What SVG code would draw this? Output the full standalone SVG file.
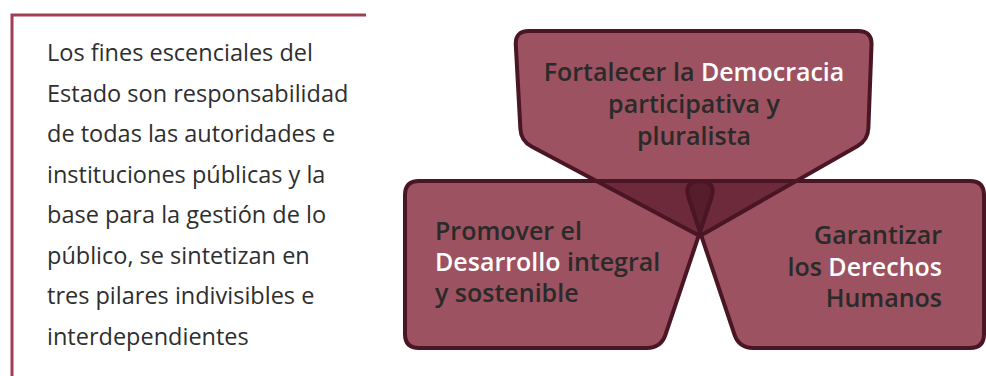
<svg xmlns="http://www.w3.org/2000/svg" xmlns:xlink="http://www.w3.org/1999/xlink" width="986" height="376" viewBox="0 0 986 376">
<style>
.para{font-family:"Open Sans","Noto Sans","Liberation Sans",sans-serif;font-size:23.5px;fill:#2e2e2e}
.lbl{font-family:"Open Sans","Noto Sans","Liberation Sans",sans-serif;font-size:25px;font-weight:600;fill:#2a2a2a}
.hl{fill:#ffffff}
.shape{fill:#9c5260}
.edge{fill:none;stroke:#4a1525;stroke-width:4;stroke-linejoin:round}
</style>
<defs>
<path id="pT" d="M529,31 L858,31 Q872,31 871.5,45 L868.4,128 Q868,140 857.6,146 L704.3,233.5 Q700,236 695.6,233.7 L531.6,146.6 Q521,141 520.4,129 L515.8,45 Q515,31 529,31 Z"/>
<path id="pL" d="M419,181 L699,181 Q717,181 711.3,198.1 L665.5,334.7 Q661,348 647,348 L419,348 Q405,348 405,334 L405,195 Q405,181 419,181 Z"/>
<path id="pR" d="M701,181 L970,181 Q984,181 984,195 L984,334 Q984,348 970,348 L753,348 Q739,348 734.5,334.7 L688.7,198.1 Q683,181 701,181 Z"/>
<clipPath id="cT"><use xlink:href="#pT"/></clipPath>
<clipPath id="cL"><use xlink:href="#pL"/></clipPath>
</defs>
<path d="M12,376 L12,15 L366,15" fill="none" stroke="#9e3f55" stroke-width="3"/>
<g id="intro">
<text class="para" x="47" y="61">Los fines escenciales del</text>
<text class="para" x="47" y="101.5">Estado son responsabilidad</text>
<text class="para" x="47" y="142">de todas las autoridades e</text>
<text class="para" x="47" y="182.5">instituciones públicas y la</text>
<text class="para" x="47" y="223">base para la gestión de lo</text>
<text class="para" x="47" y="263.5">público, se sintetizan en</text>
<text class="para" x="47" y="304">tres pilares indivisibles e</text>
<text class="para" x="47" y="344.5">interdependientes</text>
</g>
<g id="pilar-democracia">
<use xlink:href="#pT" class="shape"/>
</g>
<g id="pilar-desarrollo">
<use xlink:href="#pL" class="shape"/>
</g>
<g id="pilar-derechos">
<use xlink:href="#pR" class="shape"/>
</g>
<g id="overlaps">
<use xlink:href="#pL" fill="#6d2a3b" clip-path="url(#cT)"/>
<use xlink:href="#pR" fill="#6d2a3b" clip-path="url(#cT)"/>
<g clip-path="url(#cT)"><use xlink:href="#pR" fill="#561d2c" clip-path="url(#cL)"/></g>
</g>
<g id="outlines">
<use xlink:href="#pT" class="edge"/>
<use xlink:href="#pL" class="edge"/>
<use xlink:href="#pR" class="edge"/>
</g>
<g id="labels">
<text class="lbl" x="694" y="81" text-anchor="middle">Fortalecer la <tspan class="hl">Democracia</tspan></text>
<text class="lbl" x="694" y="113" text-anchor="middle">participativa y</text>
<text class="lbl" x="694" y="145" text-anchor="middle">pluralista</text>
<text class="lbl" x="435" y="240">Promover el</text>
<text class="lbl" x="435" y="271"><tspan class="hl">Desarrollo</tspan> integral</text>
<text class="lbl" x="435" y="302">y sostenible</text>
<text class="lbl" x="942" y="244" text-anchor="end">Garantizar</text>
<text class="lbl" x="942" y="276" text-anchor="end">los <tspan class="hl">Derechos</tspan></text>
<text class="lbl" x="942" y="307" text-anchor="end">Humanos</text>
</g>
</svg>
